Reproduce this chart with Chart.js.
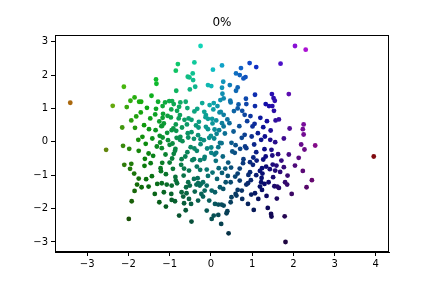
<!DOCTYPE html>
<html>
<head>
<meta charset="utf-8">
<script src="https://cdn.jsdelivr.net/npm/chart.js@4/dist/chart.umd.min.js"></script>
<style>
  html, body { margin: 0; padding: 0; background: #fff; }
  #wrap { width: 432px; height: 288px; }
</style>
</head>
<body>
<div id="wrap"><canvas id="grafico"></canvas></div>
<script>
const titulo = "0%";
const xTicks = [-3, -2, -1, 0, 1, 2, 3, 4];
const yTicks = [-3, -2, -1, 0, 1, 2, 3];

// pontos (x, y)
const xs = [
  // alto-esquerda
  -3.41, -2.11, -1.85, -1.95, -2.38, -2.04, -1.74,
  // alto-centro
  -0.25, -0.40, -0.80, -0.85, -0.44, -0.56, -0.52, -0.43, -1.33, -1.32, -0.38, -0.51, -0.84, 0.05, 0.27, -0.07,
  0.01, 0.30, 0.27, 0.28, 0.23, 0.07, -1.44, -1.69, -1.28, -1.11, -1.01, -0.94, -0.90, -0.74, -0.61, -1.17,
  -0.77, -0.21, -0.03, 0.16,
  // alto-direita
  2.04, 2.30, 1.69, 0.94, 1.10, 0.73, 0.61, 0.70, 0.84, 0.79, 0.46, 0.65, 0.61, 1.89, 1.48, 1.52, 1.55, 1.07,
  0.85, 0.47, 0.48, 0.31, 0.67, 0.86, 1.33, 1.07, 1.41, 1.49,
  // meio-esquerda
  -1.93, -2.15, -1.84, -2.54, -2.13, -1.98, -1.75, -2.10, -1.93, -1.96, -1.86, -1.75,
  // centro
  -1.70, -1.55, -1.33, -1.16, -1.17, -0.96, -0.82, -0.75, -0.57, -0.54, -0.40, -0.33, -0.16, -0.12, 0.03, 0.06, 0.21, 0.24,
  -1.62, -1.47, -1.25, -1.14, -0.97, -0.91, -0.85, -0.64, -0.58, -0.36, -0.29, -0.12, -0.07, 0.09, 0.13, 0.27,
  -1.50, -1.20, -1.66, -1.34, -1.24, -1.06, -1.04, -0.84, -0.74, -0.56, -0.47, -0.31, -0.25, -0.07, 0.00, 0.14, 0.20,
  -1.58, -1.42, -1.23, -1.17, -1.00, -0.93, -0.75, -0.69, -0.49, -0.41, -0.25, -0.17, 0.01, 0.08, 0.22, 0.26,
  -1.51, -1.40, -1.19, -1.10, -0.90, -0.86, -0.62, -0.57, -0.41, -0.34, -0.15, -0.09, 0.09, 0.13, 0.29,
  -1.61, -1.18, -1.00, -0.94, -0.72, -0.65, -0.45, -0.34, -0.16, -0.10, 0.12, 0.19,
  -1.43, -1.21, -1.09, -0.92, -0.86, -0.66, -0.53, -0.32, -0.26, -0.07, 0.04, 0.27, -1.57,
  // meio-direita
  0.31, 0.40, 0.56, 0.65, 0.76, 0.82, 0.88, 0.96, 1.06, 1.20, 1.27, 1.36, 1.45, 1.53, 1.57, 1.65, 1.77, 1.91,
  2.19, 2.25, 2.27, 2.23,
  0.34, 0.50, 0.60, 0.75, 0.83, 0.99, 1.05, 1.22, 1.30, 1.47, 1.56, 1.63,
  0.58, 0.79, 0.86, 1.03, 1.10, 1.27, 1.33, 1.50, 1.59,
  0.42, 0.49, 0.70, 0.78, 0.95, 1.02, 1.19, 1.25, 1.43, 1.51, 1.68,
  0.41, 0.59, 0.70, 0.91, 0.97, 1.23, 1.34, 1.77, 2.13, 1.89,
  // extremo direito
  2.53, 3.95, 2.45, 2.23, 2.25,
  // baixo-esquerda
  -1.79, -1.85, -1.92, -1.99,
  // baixo-centro
  -1.68, -1.36, -1.19, -1.07, -0.95, -0.82, -0.55, -0.51, -0.35, -0.27, -0.19, -0.10, 0.02, 0.10, 0.22, -1.14,
  -1.09, -0.95, -0.87, -0.71, -0.67, -0.59, -0.53, -0.65, -0.48, -0.39, -0.23, -0.19, -0.04, 0.10, 0.18, 0.26,
  -0.77, -0.47, 0.07, 0.18, 0.02, 0.25, -0.24, -0.31,
  // baixo-direita
  0.36, 0.48, 0.65, 0.60, 0.62, 0.48, 0.31, 0.40, 0.38, 0.76, 0.86, 0.90, 0.98, 1.07, 1.19, 1.22, 1.24, 1.35,
  1.40, 1.54, 1.61, 1.65, 1.80, 1.85, 2.32, 1.04, 1.38, 1.46, 1.47, 1.79, 0.43, 1.81,
  // zona densa, pontos sobrepostos
  -1.35, -1.05, -0.78, -1.18, -0.95, -0.70, -0.47, -0.30, -0.13, 0.04,
  -0.83, -0.55, -0.40, -1.31, -1.46, -1.22, -0.87, -0.71, -0.26, 0.01,
  0.18, -0.04, 0.31, 0.45, 0.55, 0.69, 0.82, 1.01, 1.14, 1.31,
  1.44, 0.52, 0.71, 0.95, 1.11, 1.24, 1.49, 1.71, 1.56, 1.30,
  1.10, 0.65, 0.35, 0.30, 0.15, -0.15, -0.41, -0.60, -0.85, -1.30,
  -1.51, -0.96, -0.31, 0.50, 0.75, 1.15, 1.60, 0.90, -0.10, -0.61,
  -1.25, -1.60, -1.76, -1.81, 1.86, 2.04, 1.96
];
const ys = [
  // alto-esquerda
  1.17, 1.65, 1.33, 1.23, 1.08, 1.04, 1.20,
  // alto-centro
  2.87, 2.38, 2.33, 2.13, 2.05, 1.95, 1.93, 1.85, 1.87, 1.74, 1.65, 1.57, 1.53, 2.16, 2.29, 1.70,
  1.67, 1.80, 1.62, 1.44, 1.25, 1.16, 1.38, 1.20, 1.20, 1.18, 1.22, 1.22, 1.13, 1.18, 1.20, 1.07,
  1.05, 1.16, 1.10, 1.07,
  // alto-direita
  2.87, 2.76, 2.34, 2.36, 2.24, 2.21, 2.05, 2.00, 1.94, 1.90, 1.70, 1.63, 1.53, 1.43, 1.43, 1.31, 1.23, 1.41,
  1.29, 1.23, 1.18, 1.30, 1.12, 1.13, 1.13, 1.07, 1.07, 1.07,
  // meio-esquerda
  0.64, 0.43, 0.42, -0.24, -0.12, -0.21, -0.27, -0.69, -0.66, -0.81, -0.95, -1.10,
  // centro
  0.88, 1.02, 0.99, 0.84, 0.72, 0.97, 0.93, 0.80, 1.01, 0.70, 0.91, 0.99, 0.90, 0.80, 0.69, 0.97, 0.88, 0.90,
  0.50, 0.70, 0.61, 0.55, 0.73, 0.40, 0.52, 0.66, 0.52, 0.49, 0.60, 0.45, 0.69, 0.37, 0.64, 0.56,
  0.38, 0.47, 0.15, 0.35, 0.18, 0.27, 0.05, 0.33, 0.15, 0.26, 0.29, 0.20, 0.08, 0.38, 0.18, 0.24, 0.35,
  -0.06, 0.10, -0.02, 0.13, -0.09, -0.05, 0.06, 0.02, -0.16, 0.09, -0.07, 0.05, -0.17, 0.10, -0.03, -0.04,
  -0.35, -0.42, -0.19, -0.38, -0.36, -0.21, -0.44, -0.31, -0.52, -0.27, -0.45, -0.20, -0.38, -0.33, -0.44,
  -0.72, -0.63, -0.62, -0.50, -0.69, -0.80, -0.55, -0.74, -0.51, -0.83, -0.57, -0.79,
  -1.03, -0.88, -0.97, -0.81, -1.05, -1.01, -0.86, -1.09, -0.84, -1.02, -0.92, -0.93, -1.12,
  // meio-direita
  0.81, 0.67, 0.92, 1.00, 0.93, 0.81, 0.62, 0.77, 0.54, 0.72, 0.44, 0.62, 0.34, 0.93, 0.64, 0.67, 0.10, 0.40,
  -0.08, 0.52, -0.23, -0.87,
  0.25, -0.03, -0.10, 0.12, -0.14, 0.16, -0.08, 0.06, -0.22, -0.24, -0.01, -0.37,
  -0.33, -0.52, -0.19, -0.47, -0.31, -0.53, -0.44, -0.68, -0.71,
  -0.62, -0.77, -0.80, -0.64, -0.91, -0.69, -0.87, -0.95, -0.82, -1.06, -0.90,
  -1.02, -1.04, -1.16, -0.99, -1.15, -1.08, -0.74, -0.76, -0.48, -0.38,
  // extremo direito
  -0.11, -0.44, -1.15, 0.38, 0.22,
  // baixo-esquerda
  -1.28, -1.47, -1.78, -2.31,
  // baixo-centro
  -1.36, -1.56, -1.24, -1.28, -1.31, -1.24, -1.21, -1.31, -1.28, -1.31, -1.21, -1.31, -1.46, -1.51, -1.36, -1.51,
  -1.94, -1.74, -1.78, -1.51, -1.64, -1.54, -1.71, -1.84, -1.86, -1.49, -1.56, -1.64, -1.76, -1.86, -1.88, -1.88,
  -2.21, -2.39, -2.21, -2.19, -2.31, -2.46, -1.26, -1.24,
  // baixo-direita
  -1.21, -1.21, -1.44, -1.56, -1.61, -1.81, -1.91, -2.08, -2.14, -1.71, -1.28, -1.24, -1.58, -1.54, -1.34, -1.21, -1.44, -1.62,
  -1.21, -1.33, -1.34, -1.38, -1.21, -1.28, -1.36, -2.04, -1.98, -2.16, -2.24, -2.23, -2.74, -3.00,
  // zona densa, pontos sobrepostos
  0.82, 0.78, 0.70, 0.48, 0.35, 0.43, 0.66, 0.43, 0.74, 0.55,
  0.12, 0.13, -0.20, -0.14, -0.64, -0.79, -0.27, -0.52, -0.55, -0.33,
  -0.16, 0.12, 0.46, 0.56, 0.31, 0.47, 0.21, 0.46, 0.26, 0.16,
  0.06, -0.29, -0.21, -0.61, -0.56, -0.79, -0.41, -0.56, -0.86, -1.26,
  -1.00, -0.95, -0.80, -1.41, -1.11, -1.46, -1.11, -1.36, -1.16, -1.26,
  -1.34, -1.56, -1.76, -1.66, -1.46, -1.71, -1.70, -1.86, -2.06, -2.05,
  -1.81, -0.51, 0.06, 0.76, -1.01, -0.71, -1.56
];

const pontos = xs.map((x, i) => ({ x: x, y: ys[i] }));

// cor: matiz pelo x, brilho pelo y
const paradasX = [-3.5, -2, 0, 1, 2, 4];
const paradasH = [30, 105, 180, 225, 275, 360];

function matiz(x) {
  if (x <= paradasX[0]) return paradasH[0];
  for (let i = 1; i < paradasX.length; i++) {
    if (x <= paradasX[i]) {
      const t = (x - paradasX[i - 1]) / (paradasX[i] - paradasX[i - 1]);
      return paradasH[i - 1] + t * (paradasH[i] - paradasH[i - 1]);
    }
  }
  return paradasH[paradasH.length - 1];
}

function hsv(h, s, v) {
  h = ((h % 360) + 360) % 360 / 60;
  const c = v * s;
  const xx = c * (1 - Math.abs(h % 2 - 1));
  const m = v - c;
  let r = 0, g = 0, b = 0;
  if (h < 1) { r = c; g = xx; }
  else if (h < 2) { r = xx; g = c; }
  else if (h < 3) { g = c; b = xx; }
  else if (h < 4) { g = xx; b = c; }
  else if (h < 5) { r = xx; b = c; }
  else { r = c; b = xx; }
  const f = n => Math.round((n + m) * 255);
  return `rgb(${f(r)}, ${f(g)}, ${f(b)})`;
}

function corDoPonto(p) {
  const v = Math.max(0.15, Math.min(1, 0.55 + 0.1 * p.y));
  return hsv(matiz(p.x), 0.92, v);
}

// moldura dos quatro lados e titulo centrado sobre a area do grafico
const moldura = {
  id: "moldura",
  afterDraw(chart) {
    const { ctx, chartArea: a } = chart;
    ctx.save();
    ctx.strokeStyle = "#000";
    ctx.lineWidth = 1;
    ctx.strokeRect(Math.round(a.left) + 0.5, Math.round(a.top) + 0.5,
      Math.round(a.right - a.left) - 1, Math.round(a.bottom - a.top) - 1);
    ctx.fillStyle = "#000";
    ctx.font = "12px 'DejaVu Sans'";
    ctx.textAlign = "center";
    ctx.textBaseline = "middle";
    ctx.fillText(titulo, (a.left + a.right) / 2, a.top - 12);
    ctx.restore();
  }
};

const fonteTicks = { family: "DejaVu Sans", size: 10 };
const menos = v => String(v).replace("-", "\u2212");

new Chart(document.getElementById("grafico").getContext("2d"), {
  type: "scatter",
  data: {
    datasets: [{
      data: pontos,
      pointRadius: 2.4,
      pointBorderWidth: 0,
      backgroundColor: c => corDoPonto(c.raw || { x: 0, y: 0 }),
    }]
  },
  options: {
    responsive: true,
    maintainAspectRatio: false,
    animation: false,
    devicePixelRatio: 1,
    layout: { padding: { left: 0, right: 43, top: 35, bottom: 0 } },
    plugins: {
      legend: { display: false },
      tooltip: { enabled: false },
      title: { display: false }
    },
    scales: {
      x: {
        type: "linear",
        min: -3.78,
        max: 4.32,
        afterBuildTicks: s => { s.ticks = xTicks.map(v => ({ value: v })); },
        afterFit: s => { s.height = 36; },
        ticks: { color: "#000", font: fonteTicks, padding: 2, maxRotation: 0, autoSkip: false, callback: menos },
        grid: { drawOnChartArea: false, drawTicks: true, tickLength: 4, tickColor: "#000" },
        border: { display: true, color: "#000" }
      },
      y: {
        type: "linear",
        min: -3.3,
        max: 3.2,
        afterBuildTicks: s => { s.ticks = yTicks.map(v => ({ value: v })); },
        afterFit: s => { s.width = 55; },
        ticks: { color: "#000", font: fonteTicks, padding: 3, autoSkip: false, callback: menos },
        grid: { drawOnChartArea: false, drawTicks: true, tickLength: 4, tickColor: "#000" },
        border: { display: true, color: "#000" }
      }
    }
  },
  plugins: [moldura]
});
</script>
</body>
</html>
